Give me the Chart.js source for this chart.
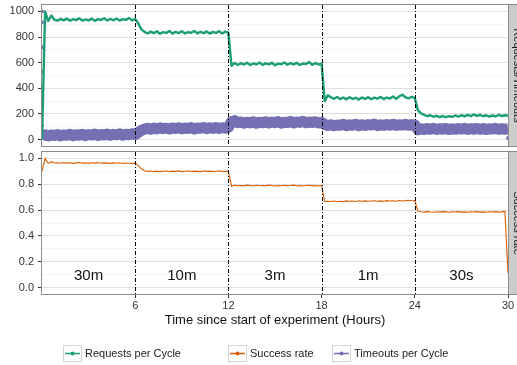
<!DOCTYPE html>
<html>
<head>
<meta charset="utf-8">
<script src="https://cdn.jsdelivr.net/npm/chart.js@4.4.1/dist/chart.umd.min.js"></script>
<style>
html,body{margin:0;padding:0;background:#fff;}
body{width:517px;height:365px;position:relative;overflow:hidden;font-family:"Liberation Sans",Arial,sans-serif;}
#wrapA{position:absolute;left:0;top:0;width:517px;height:150px;}
#wrapB{position:absolute;left:0;top:147px;width:517px;height:190px;}
.key{position:absolute;top:345px;width:19px;height:17px;box-sizing:border-box;border:1px solid #d4d4d4;background:#fff;}
.key svg{display:block;}
.lt{position:absolute;top:345px;height:17px;line-height:17px;font-size:11px;color:#1a1a1a;white-space:nowrap;}
</style>
</head>
<body>
<div id="wrapA"><canvas id="cA" width="517" height="150"></canvas></div>
<div id="wrapB"><canvas id="cB" width="517" height="190"></canvas></div>
<div id="legend"></div>
<script>
// ---------- data (sampled every 0.2 h, 0..30 h) ----------
const STEP_HOURS = 0.2;
const requestsPerCycle = [
  0,1000,925,968,935,928,942,930,945,927,940,932,946,928,938,930,944,926,940,933,947,929,941,931,945,928,940,934,948,930,942,
  905,860,840,828,842,830,845,826,838,832,848,827,840,831,846,828,839,833,847,829,841,830,844,827,840,832,846,828,842,835,
  575,598,582,596,585,600,581,594,586,601,583,595,587,599,580,593,588,602,584,596,586,600,582,594,589,605,583,597,586,592,
  300,345,330,318,332,316,328,314,330,318,326,312,329,317,331,315,327,319,333,316,328,320,336,318,338,350,330,322,334,325,
  230,205,192,182,190,178,186,176,184,175,183,177,188,179,190,181,194,183,196,185,192,182,190,180,188,181,192,184,190,186
];
const timeoutsPerCycle = [
  30,38,28,36,31,40,29,37,33,41,30,38,34,42,31,39,35,43,32,40,36,44,33,41,37,45,34,42,38,46,40,
  55,72,82,88,80,90,83,92,85,89,82,91,86,93,84,90,87,94,83,91,88,95,85,92,87,94,86,93,89,96,
  140,148,132,138,128,136,130,139,127,135,131,140,129,137,132,141,128,136,133,142,130,138,134,143,131,137,133,140,129,136,
  118,110,116,108,114,111,119,109,115,112,120,108,116,110,117,113,121,109,115,111,118,112,120,110,116,113,119,111,117,114,
  76,84,78,86,80,88,79,85,81,87,78,84,80,86,82,88,79,85,81,87,80,86,78,84,82,88,79,85,81,84
];
const successRate = [
  0.90,1.00,0.962,0.975,0.965,
  0.966,0.963,0.968,0.964,0.967,0.962,0.966,0.969,0.964,0.965,0.962,0.967,0.964,0.968,0.963,0.966,0.964,0.962,0.966,0.963,0.967,0.961,0.965,0.963,0.960,0.964,
  0.945,0.92,0.905,0.900,0.903,0.899,0.902,0.898,0.901,0.903,0.899,0.902,0.900,0.904,0.898,0.901,0.903,0.899,0.902,0.900,0.898,0.903,0.900,0.902,0.899,0.901,0.903,0.900,0.898,0.901,
  0.785,0.792,0.789,0.791,0.788,0.793,0.790,0.787,0.792,0.789,0.791,0.788,0.793,0.790,0.787,0.791,0.789,0.792,0.788,0.790,0.793,0.789,0.791,0.787,0.790,0.792,0.788,0.791,0.789,0.790,
  0.665,0.668,0.666,0.670,0.667,0.669,0.666,0.671,0.668,0.670,0.667,0.672,0.669,0.671,0.668,0.670,0.672,0.669,0.671,0.668,0.673,0.670,0.672,0.669,0.674,0.671,0.673,0.676,0.672,0.674,
  0.592,0.587,0.584,0.588,0.585,0.583,0.587,0.584,0.588,0.586,0.583,0.587,0.585,0.588,0.584,0.586,0.583,0.587,0.585,0.588,0.584,0.586,0.583,0.587,0.585,0.588,0.584,0.586,0.590,0.11
];
// isolated timeout readings (start-up and final sample)
const timeoutOutlierHours  = [0, 0, 0, 0, 0, 0, 30];
const timeoutOutlierValues = [1000, 915, 720, 527, 340, 109, 12];

const xTickValues = [6, 12, 18, 24, 30];
const phaseBoundaries = [6, 12, 18, 24];
const phaseLabels = ['30m', '10m', '3m', '1m', '30s'];
const phaseLabelHours = [3, 9, 15, 21, 27];
const phaseLabelLevel = 0.09;
const requestsTicks = [0,100,200,300,400,500,600,700,800,900,1000];
const successTicks = [0,0.1,0.2,0.3,0.4,0.5,0.6,0.7,0.8,0.9,1.0];
const stripLabels = ['Requests/Timeouts', 'Success rate'];
const xTitle = 'Time since start of experiment (Hours)';
const legendItems = ['Requests per Cycle', 'Success rate', 'Timeouts per Cycle'];

// ---------- styles ----------
const GREEN = '#1b9e77', ORANGE = '#d95f02', PURPLE = '#7570b3';
const FONT = '"Liberation Sans", Arial, sans-serif';
Chart.defaults.font.family = FONT;

const toPoints = arr => arr.map((v, i) => ({x: Math.round(i * STEP_HOURS * 100) / 100, y: v}));

const decor = {
  id: 'decor',
  afterDatasetsDraw(chart, args, opts) {
    const {ctx, chartArea: {left, right, top, bottom}, scales: {x, y}} = chart;
    ctx.save();
    // dash-dot phase boundaries
    ctx.strokeStyle = '#000';
    ctx.lineWidth = 1;
    ctx.setLineDash([4, 2, 1, 2]);
    phaseBoundaries.forEach(h => {
      const px = Math.round(x.getPixelForValue(h)) + 0.5;
      ctx.beginPath(); ctx.moveTo(px, top); ctx.lineTo(px, bottom); ctx.stroke();
    });
    ctx.setLineDash([]);
    // phase labels
    if (opts.phases) {
      ctx.fillStyle = '#111';
      ctx.font = '15px ' + FONT;
      ctx.textAlign = 'center';
      ctx.textBaseline = 'middle';
      phaseLabels.forEach((t, i) => {
        ctx.fillText(t, x.getPixelForValue(phaseLabelHours[i]), y.getPixelForValue(phaseLabelLevel));
      });
    }
    // panel border
    ctx.strokeStyle = '#8c8c8c';
    ctx.lineWidth = 1;
    ctx.strokeRect(Math.round(left) - 0.5, Math.round(top) - 0.5, Math.round(right) - Math.round(left) + 1, Math.round(bottom) - Math.round(top) + 1);
    // strip
    const sx = Math.round(right) + 0.5;
    ctx.fillStyle = '#cccccc';
    ctx.fillRect(sx, Math.round(top) - 0.5, 20, Math.round(bottom) - Math.round(top) + 1);
    ctx.strokeRect(sx, Math.round(top) - 0.5, 20, Math.round(bottom) - Math.round(top) + 1);
    ctx.translate(sx + 8.5, (top + bottom) / 2);
    ctx.rotate(Math.PI / 2);
    ctx.fillStyle = '#1a1a1a';
    ctx.font = '11px ' + FONT;
    ctx.textAlign = 'center';
    ctx.textBaseline = 'middle';
    ctx.fillText(opts.strip, 0, 0);
    ctx.restore();
  }
};

function yScale(min, max, ticks, isMajor, fmt) {
  return {
    type: 'linear', min, max,
    afterBuildTicks: s => { s.ticks = ticks.map(v => ({value: v})); },
    afterFit: s => { s.width = 42; s.paddingTop = 0; s.paddingBottom = 0; },
    ticks: {
      autoSkip: false, padding: 4, color: '#333', font: {size: 11},
      callback: v => isMajor(v) ? fmt(v) : ''
    },
    grid: {
      color: c => isMajor(c.tick.value) ? '#e0e0e0' : '#f0f0f0',
      lineWidth: c => isMajor(c.tick.value) ? 1 : 0.7,
      tickColor: c => isMajor(c.tick.value) ? '#333' : 'rgba(0,0,0,0)',
      tickLength: 4
    },
    border: {display: false}
  };
}

const common = {
  responsive: false, animation: false, devicePixelRatio: 1,
  events: [],
  plugins: {legend: {display: false}, tooltip: {enabled: false}},
  elements: {point: {radius: 0}, line: {tension: 0}}
};

new Chart(document.getElementById('cA'), {
  type: 'line',
  data: {
    datasets: [
      {data: toPoints(timeoutsPerCycle), borderColor: PURPLE, borderWidth: 11, borderJoinStyle: 'round', pointRadius: 0, order: 3},
      {data: timeoutOutlierHours.map((h, i) => ({x: h, y: timeoutOutlierValues[i]})), showLine: false,
       pointRadius: 2, pointBackgroundColor: PURPLE, pointBorderWidth: 0, borderColor: PURPLE, order: 2},
      {data: toPoints(requestsPerCycle), borderColor: GREEN, borderWidth: 2.4, borderJoinStyle: 'round', pointRadius: 0, order: 1}
    ]
  },
  options: Object.assign({}, common, {
    layout: {padding: {left: 0, right: 9, top: 5, bottom: 3}},
    scales: {
      x: {type: 'linear', min: 0, max: 30, display: false},
      y: yScale(-50, 1050, requestsTicks, v => v % 200 === 0, v => String(v))
    },
    plugins: Object.assign({}, common.plugins, {decor: {strip: stripLabels[0], phases: false}})
  }),
  plugins: [decor]
});

new Chart(document.getElementById('cB'), {
  type: 'line',
  data: {
    datasets: [
      {data: toPoints(successRate), borderColor: ORANGE, borderWidth: 1.1, pointRadius: 0}
    ]
  },
  options: Object.assign({}, common, {
    layout: {padding: {left: 0, right: 9, top: 5, bottom: 9}},
    scales: {
      x: {
        type: 'linear', min: 0, max: 30,
        afterBuildTicks: s => { s.ticks = xTickValues.map(v => ({value: v})); },
        afterFit: s => { s.height = 34; s.paddingLeft = 0; s.paddingRight = 0; },
        ticks: {autoSkip: false, maxRotation: 0, padding: 1.5, color: '#333', font: {size: 11}, callback: v => String(v)},
        grid: {drawOnChartArea: false, tickLength: 4, tickColor: '#333'},
        border: {display: false},
        title: {display: true, text: xTitle, color: '#111', font: {size: 13}, padding: {top: 0, bottom: 0}}
      },
      y: yScale(-0.05, 1.05, successTicks, v => Math.round(v * 10) % 2 === 0, v => v.toFixed(1))
    },
    plugins: Object.assign({}, common.plugins, {decor: {strip: stripLabels[1], phases: true}})
  }),
  plugins: [decor]
});

// ---------- legend ----------
const legendColors = [GREEN, ORANGE, PURPLE];
const legendKeyLeft = [63, 228, 332];
const legendTextLeft = [85, 250, 354];
const lg = document.getElementById('legend');
legendItems.forEach((name, i) => {
  const k = document.createElement('div');
  k.className = 'key';
  k.style.left = legendKeyLeft[i] + 'px';
  k.innerHTML = '<svg width="17" height="15"><line x1="1" y1="7.5" x2="16" y2="7.5" stroke="' + legendColors[i] +
    '" stroke-width="1.5"/><circle cx="8.5" cy="7.5" r="2" fill="' + legendColors[i] + '"/></svg>';
  lg.appendChild(k);
  const t = document.createElement('div');
  t.className = 'lt';
  t.style.left = legendTextLeft[i] + 'px';
  t.textContent = name;
  lg.appendChild(t);
});
</script>
</body>
</html>
